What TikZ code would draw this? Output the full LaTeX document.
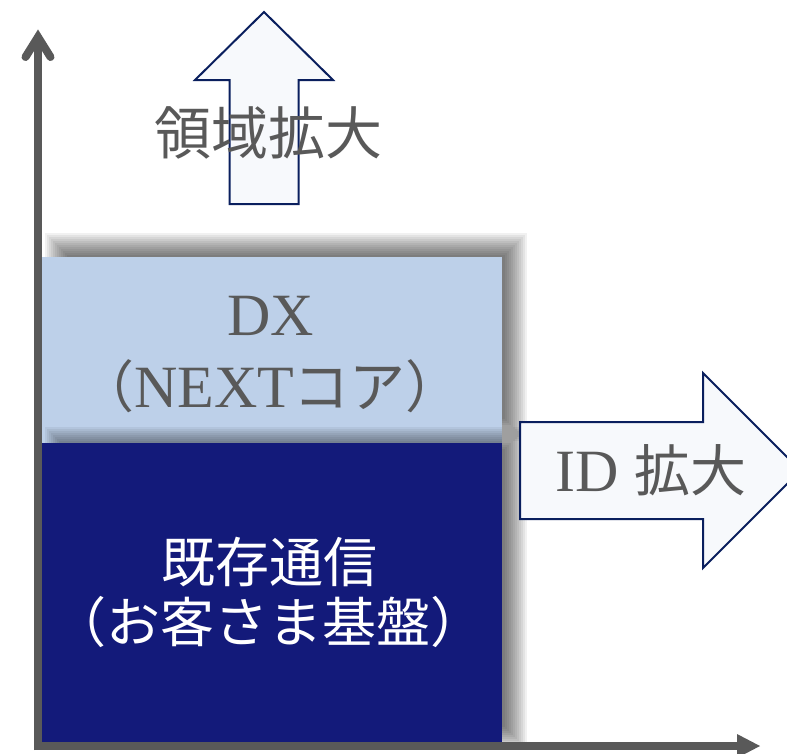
\documentclass[tikz,border=0pt]{standalone}
\usepackage{fontspec}
\setmainfont{Liberation Serif}
\newfontfamily\cjk{Noto Sans CJK JP}
\definecolor{axisgray}{HTML}{595959}
\definecolor{textgray}{HTML}{595959}
\definecolor{lightblue}{HTML}{BDD0E9}
\definecolor{navybox}{HTML}{131A7A}
\definecolor{arrowblue}{HTML}{0A1F5E}
\definecolor{arrowfill}{HTML}{F7F9FC}
\tikzset{
  boxstyle/.style={inner sep=0pt, draw=none, minimum width=460pt},
  shadowlayer/.style={fill=black, opacity=0.055},
  axisline/.style={draw=axisgray, line width=8pt},
  blockarrow/.style={draw=arrowblue, fill=arrowfill, line width=2pt, line join=miter},
  graytext/.style={text=textgray, inner sep=0pt, anchor=base},
  whitetext/.style={text=white, inner sep=0pt, anchor=base},
}
\begin{document}
\begin{tikzpicture}[x=1pt,y=-1pt]
\useasboundingbox (0,0) rectangle (787,753);
\clip (0,0) rectangle (787,753);
\fill[white] (0,0) rectangle (787,753);

% soft shadow of the DX box
\foreach \i in {1,...,12} {
  \pgfmathsetmacro{\e}{13-2*\i}
  \fill[shadowlayer] (56-\e,244-\e) rectangle (516+\e,430+\e);
}
\node[boxstyle, fill=lightblue, minimum height=186pt] (dxbox) at (272,350) {};

% soft shadow of the base box
\foreach \i in {1,...,12} {
  \pgfmathsetmacro{\e}{13-2*\i}
  \fill[shadowlayer] (56-\e,438-\e) rectangle (516+\e,738+\e);
}
\node[boxstyle, fill=navybox, minimum height=299pt] (basebox) at (272,592.5) {};

% box texts
\node[graytext, font=\fontsize{60}{60}\selectfont] (dxt) at (271,335) {DX};
\node[graytext, font=\fontsize{60}{60}\selectfont] (nextt) at (270,407)
  {{\cjk\fontsize{56}{56}\selectfont （}NEXT{\cjk\fontsize{56}{56}\selectfont コア）}};
\node[whitetext, font=\cjk\fontsize{54}{54}\selectfont] (baset1) at (269,582) {既存通信};
\node[whitetext, font=\cjk\fontsize{54}{54}\selectfont] (baset2) at (268,642) {（お客さま基盤）};

% axes
\coordinate (corner) at (38,750);
\coordinate (ytop) at (38,40);
\coordinate (ytip) at (38,37);
\coordinate (xstart) at (34,746);
\coordinate (xend) at (740,746);
\draw[axisline] (corner) -- (ytop);
\draw[axisline, line cap=round, line join=miter] (25.5,57) -- (ytip) -- (50.5,57);
\draw[axisline] (xstart) -- (xend);
\fill[axisgray] (737,734) -- (760,746) -- (737,758) -- cycle;

% up arrow
\draw[blockarrow] (229.5,204) -- (229.5,80) -- (195,80) -- (264,12) -- (333,80)
  -- (298.5,80) -- (298.5,204) -- cycle;
\node[graytext, font=\cjk\fontsize{57}{57}\selectfont] (upt) at (268,154) {領域拡大};

% right arrow
\draw[blockarrow] (520,422) -- (703,422) -- (703,373) -- (800.5,470.5) -- (703,568)
  -- (703,519) -- (520,519) -- cycle;
\node[graytext, font=\fontsize{60}{60}\selectfont] (rightt) at (651,491)
  {ID {\cjk\fontsize{56}{56}\selectfont 拡大}};
\end{tikzpicture}
\end{document}
